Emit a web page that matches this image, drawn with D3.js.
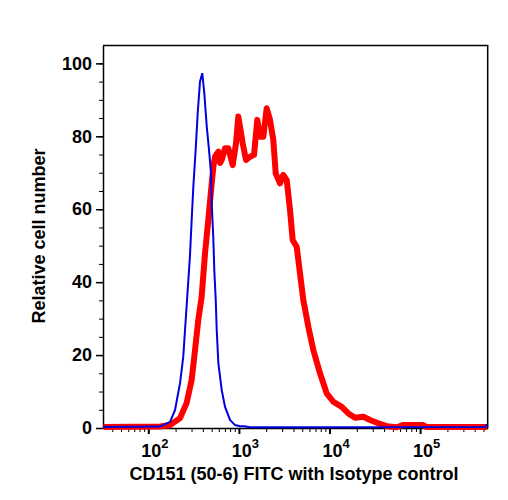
<!DOCTYPE html>
<html>
<head>
<meta charset="utf-8">
<script src="https://cdn.jsdelivr.net/npm/d3@7"></script>
<style>
  body { margin: 0; background: #fff; }
  text { font-family: "Liberation Sans", Arial, sans-serif; font-weight: bold; }
</style>
</head>
<body>
<script>
// Size of the page and the plot box
const width  = 508;
const height = 500;
const margin = {top: 45.5, right: 20.3, bottom: 72, left: 103};
const w = width - margin.left - margin.right;
const h = height - margin.top - margin.bottom;

// Tick values
const yMajor = [0, 20, 40, 60, 80, 100];
const yMinor = d3.range(0, 105, 5);
const xMajor = [1e2, 1e3, 1e4, 1e5];
const xExp   = ["2", "3", "4", "5"];

// Isotype control (blue) - fluorescence, relative count
const isoX = [32, 135, 174, 197, 224, 243, 254, 266, 288, 301, 314, 333, 351, 372, 394,
              415, 442, 468, 492, 501, 521, 535, 555, 569, 593, 646, 703, 798, 906, 1028,
              1150, 1320, 520000, 547000];
const isoY = [0.3, 0.4, 1.7, 4.9, 12.3, 19.5, 26.7, 34.2, 47, 57, 66.2, 76.2, 86.4, 95, 97.3,
              91.8, 82.6, 76.2, 69.9, 61.4, 52.5, 43.3, 35.1, 26.9, 17.8, 10.4, 5.8, 2.2, 0.8, 0.5,
              0.5, 0.2, 0.3, 1.0];

// CD151 stained (red)
const cdX = [32, 135, 174, 224, 265, 301, 328, 356, 388, 423, 459, 492, 522, 545, 593, 619,
             646, 702, 764, 854, 929, 985, 1101, 1198, 1326, 1468, 1596, 1710, 1859, 2027,
             2204, 2397, 2548, 2842, 3090, 3371, 3664, 3926, 4345, 4725, 5138, 5834, 6625,
             7855, 9313, 11010, 13640, 16130, 19120, 23610, 27990, 34570, 42760, 55170,
             64710, 107700, 116200, 547000];
const cdY = [0.3, 0.4, 0.8, 2.7, 6.9, 13.2, 21.4, 29.6, 36, 48, 57, 65, 71.6, 74.4, 75.8, 72.7,
             73.5, 76.7, 76.7, 72.1, 78.1, 85.4, 78.1, 73.5, 74.4, 74.9, 84.5, 79.9, 79.9, 87.7,
             84.5, 79, 69.8, 67.1, 69.4, 68, 59.8, 51.5, 49.7, 42.4, 35.1, 27.8, 21.4,
             15, 9.5, 7.2, 5.8, 4, 2.8, 3.1, 2.2, 1.3, 0.5, 0.2,
             0.8, 0.8, 0.3, 0.3];

const iso = isoX.map((v, i) => ({x: v, y: isoY[i]}));
const cd  = cdX.map((v, i) => ({x: v, y: cdY[i]}));

const svg = d3.select("body")
              .append("svg")
              .attr("width", width)
              .attr("height", height)
              .append("g")
              .attr("transform", `translate(${margin.left},${margin.top})`);

// scales
const x = d3.scaleLog()
            .domain([31.62, 557000])
            .range([0, w]);
const y = d3.scaleLinear()
            .domain([0, 104.9])
            .range([h, 0]);

// frame (top and right)
svg.append("path")
   .attr("d", `M0,0H${w}V${h}`)
   .attr("fill", "none")
   .attr("stroke", "black")
   .attr("stroke-width", 1.5);

// minor x ticks 2..9 in each decade
const xMinor = [];
for (let k = 1; k <= 5; k++) {
  for (let m = 2; m <= 9; m++) {
    const v = m * Math.pow(10, k);
    if (v >= x.domain()[0] && v <= x.domain()[1]) xMinor.push(v);
  }
}

svg.append("g")
   .attr("transform", `translate(0,${h})`)
   .call(d3.axisBottom(x).tickValues(xMinor).tickSize(4).tickFormat(""))
   .call(g => g.select(".domain").remove());

const xAxis = svg.append("g")
   .attr("transform", `translate(0,${h})`)
   .call(d3.axisBottom(x).tickValues(xMajor).tickSize(6).tickSizeOuter(0));
xAxis.select(".domain").attr("stroke-width", 1.5);
xAxis.selectAll(".tick line").attr("stroke-width", 2);
xAxis.selectAll(".tick text")
     .text(null)
     .attr("y", 16)
     .attr("dx", 6)
     .attr("fill", "black")
     .style("font-size", "18px")
     .each(function(d, i) {
       const t = d3.select(this);
       t.append("tspan").text("10");
       t.append("tspan").attr("dy", -9).style("font-size", "13px").text(xExp[i]);
     });

// y axis
svg.append("g")
   .call(d3.axisLeft(y).tickValues(yMinor).tickSize(4).tickFormat(""))
   .call(g => g.select(".domain").remove());

const yAxis = svg.append("g")
   .call(d3.axisLeft(y).tickValues(yMajor).tickSize(7).tickSizeOuter(0).tickPadding(4));
yAxis.select(".domain").attr("stroke-width", 1.5);
yAxis.selectAll(".tick line").attr("stroke-width", 1.5);
yAxis.selectAll(".tick text")
     .attr("fill", "black")
     .style("font-size", "18px");

// curves
const line = d3.line()
               .x(d => x(d.x))
               .y(d => y(d.y));

svg.append("path")
   .datum(cd)
   .attr("fill", "none")
   .attr("stroke", "#ff0000")
   .attr("stroke-width", 6)
   .attr("stroke-linejoin", "round")
   .attr("d", line);

svg.append("path")
   .datum(iso)
   .attr("fill", "none")
   .attr("stroke", "#0000e0")
   .attr("stroke-width", 2)
   .attr("d", line);

// axis titles
svg.append("text")
   .attr("x", 294 - margin.left)
   .attr("y", 480 - margin.top)
   .attr("text-anchor", "middle")
   .style("font-size", "18px")
   .text("CD151 (50-6) FITC with Isotype control");

svg.append("text")
   .attr("transform", `translate(${45 - margin.left},${236 - margin.top}) rotate(-90)`)
   .attr("text-anchor", "middle")
   .style("font-size", "18px")
   .text("Relative cell number");
</script>
</body>
</html>
